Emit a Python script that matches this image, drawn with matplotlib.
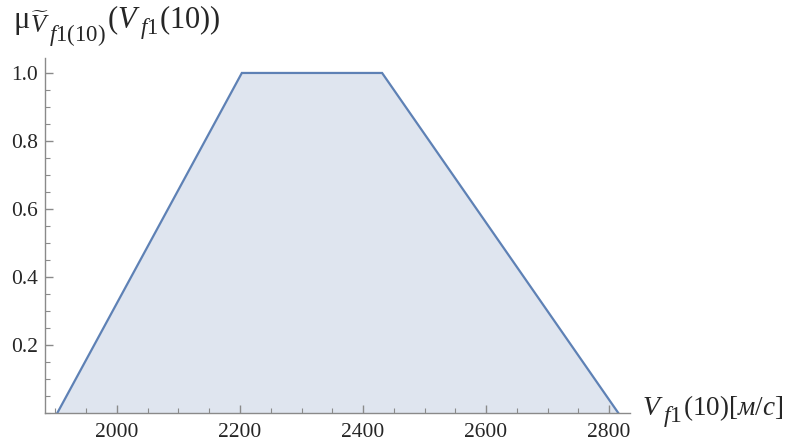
import numpy as np
import matplotlib.pyplot as plt
from matplotlib.ticker import MultipleLocator

# trapezoidal membership function of V_f1(10)
v = [1903, 2203, 2431, 2815]
mu = [0.0, 1.0, 1.0, 0.0]
xticks = [2000, 2200, 2400, 2600, 2800]
yticks = [0.2, 0.4, 0.6, 0.8, 1.0]

plt.rcParams['font.family'] = ['Liberation Serif', 'DejaVu Serif']
plt.rcParams['mathtext.fontset'] = 'custom'
plt.rcParams['mathtext.rm'] = 'Liberation Serif'
plt.rcParams['mathtext.it'] = 'Liberation Serif:italic'
plt.rcParams['mathtext.bf'] = 'Liberation Serif:bold'

line_col = '#5e81b5'
fill_col = '#dfe5ef'
axis_col = '#8a8a8a'
text_col = '#262626'

W, H = 792, 444
fig = plt.figure(figsize=(W / 100, H / 100), dpi=100)
ax = fig.add_axes([45 / W, 1 - 413 / H, 585 / W, 355 / H])

ax.fill_between(v, mu, 0, color=fill_col, lw=0)
ax.plot(v, mu, color=line_col, lw=1.6, solid_joinstyle='miter')

ax.set_xlim(1883, 2834)
ax.set_ylim(0, 1.044)

for s in ['top', 'right']:
    ax.spines[s].set_visible(False)
for s in ['left', 'bottom']:
    ax.spines[s].set_color(axis_col)
    ax.spines[s].set_linewidth(1.0)

ax.set_xticks(xticks)
ax.set_yticks(yticks)
ax.set_yticklabels(['%.1f' % t for t in yticks])
ax.xaxis.set_minor_locator(MultipleLocator(50))
ax.yaxis.set_minor_locator(MultipleLocator(0.05))
ax.tick_params(which='both', direction='in', color=axis_col, labelsize=15.5,
               labelcolor=text_col)
ax.tick_params(which='major', length=6, width=1.0)
ax.tick_params(which='minor', length=3.5, width=0.8)
ax.tick_params(axis='x', pad=7)
ax.tick_params(axis='y', pad=5)

renderer = fig.canvas.get_renderer()


# axis labels, Mathematica style: subscripts are nearly full size,
# so the label is built from pieces set one after another
def chain(x, base, pieces):
    for s, size, dy, gap in pieces:
        t = fig.text((x + gap) / W, 1 - (base + dy) / H, s, fontsize=size,
                     ha='left', va='baseline', color=text_col)
        x = t.get_window_extent(renderer).x1


# y label: mu_{V~_{f1(10)}}(V_{f1}(10))
chain(13, 28, [
    ('μ', 22, 0, 0),
    (r'$\widetilde{V}$', 18, 5, 1),
    (r'$f1(10)$', 16.5, 13, -1),
    (r'$(V$', 22, 0, 1),
    (r'$f1$', 16.5, 6, -1),
    (r'$(10))$', 22, 0, 1),
])

# x label: V_{f1}(10)[м/с]
chain(642, 415, [
    (r'$V$', 20, 0, 0),
    (r'$f1$', 17, 7, -1),
    (r'$(10)[м/с]$', 19.5, 0, 1),
])

fig.savefig('out.png', dpi=100)
